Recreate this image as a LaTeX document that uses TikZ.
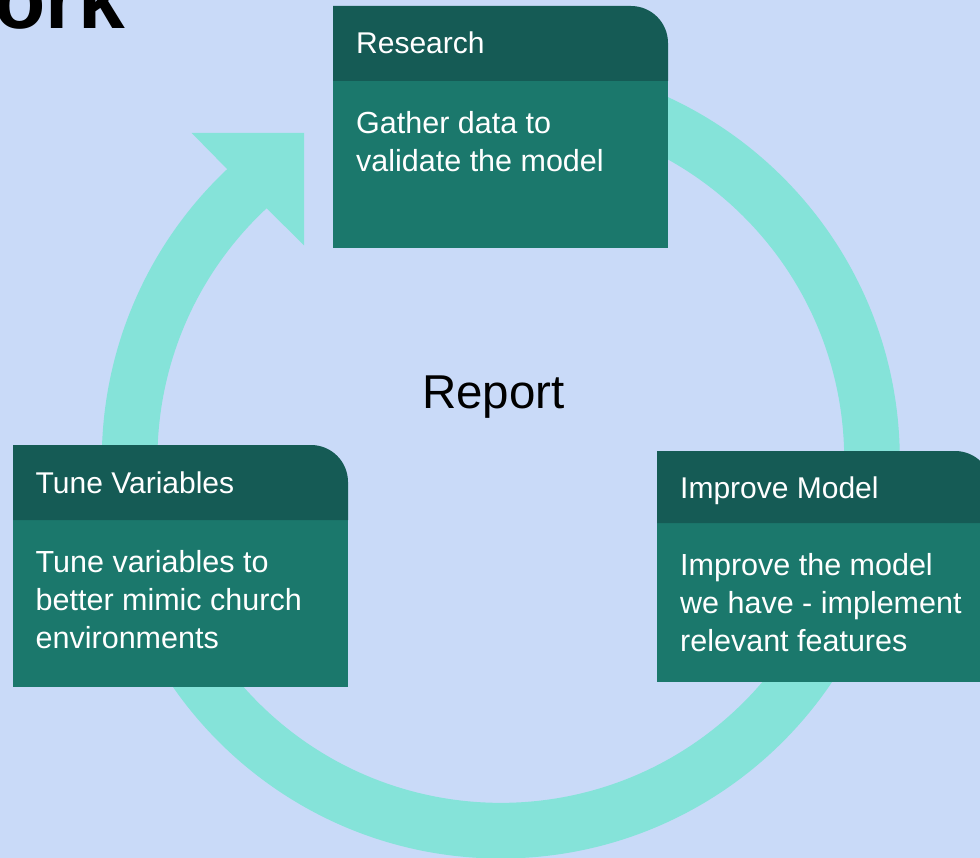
\documentclass[tikz,border=0pt]{standalone}
\usepackage{fontspec}
\setmainfont{Liberation Sans}
\definecolor{bgc}{HTML}{C9DAF8}
\definecolor{ringc}{HTML}{85E3D9}
\definecolor{headc}{HTML}{155B55}
\definecolor{bodyc}{HTML}{1B786C}
\tikzset{
  headbox/.style={fill=headc,draw=none},
  bodybox/.style={fill=bodyc,draw=none,rectangle,inner sep=0pt,minimum width=335pt,anchor=north west},
  headtext/.style={text=white,inner sep=0pt,anchor=base west,font=\fontsize{30}{38}\selectfont},
  bodytext/.style={text=white,inner sep=0pt,anchor=north west,align=left,font=\fontsize{30.5}{38}\selectfont},
}
\begin{document}
\begin{tikzpicture}[x=1pt,y=-1pt]
\useasboundingbox (0,0) rectangle (980,858);
\clip (0,0) rectangle (980,858);
\fill[bgc] (0,0) rectangle (980,858);
% ring with arrow head (y axis points down, so angles run clockwise)
\fill[ringc] (500.8,60.5) arc[start angle=-90,end angle=226.7,radius=399]
  -- (191.7,133) -- (304,133) -- (304,245.3) -- (266.6,208.3)
  arc[start angle=227,end angle=-90,radius=343.4] -- cycle;
\node[font=\fontsize{47.5}{50}\selectfont,anchor=base,inner sep=0pt] (report) at (493.5,409) {Report};
\node[font=\fontsize{84}{86}\bfseries\selectfont,anchor=base east,inner sep=0pt] (title) at (125,29) {ork};
% Research
\node[bodybox,minimum height=167pt] (researchbody) at (333,81) {};
\fill[headbox] (333,81) -- (333,6) -- (631,6) arc[start angle=-90,end angle=0,radius=37] -- (668,81) -- cycle;
\node[headtext] (researchhead) at (356,54) {Research};
\node[bodytext] (researchtext) at (356,111) {Gather data to\\validate the model};
% Tune Variables
\node[bodybox,minimum height=167pt] (tunebody) at (13,520) {};
\fill[headbox] (13,520) -- (13,445) -- (311,445) arc[start angle=-90,end angle=0,radius=37] -- (348,520) -- cycle;
\node[headtext] (tunehead) at (35.5,493) {Tune Variables};
\node[bodytext] (tunetext) at (35.5,550) {Tune variables to\\better mimic church\\environments};
% Improve Model
\node[bodybox,minimum height=159pt] (improvebody) at (657,523) {};
\fill[headbox] (657,523) -- (657,451) -- (955,451) arc[start angle=-90,end angle=0,radius=37] -- (992,523) -- cycle;
\node[headtext] (improvehead) at (680,498) {Improve Model};
\node[bodytext] (improvetext) at (680,553) {Improve the model\\we have - implement\\relevant features};
\end{tikzpicture}
\end{document}
